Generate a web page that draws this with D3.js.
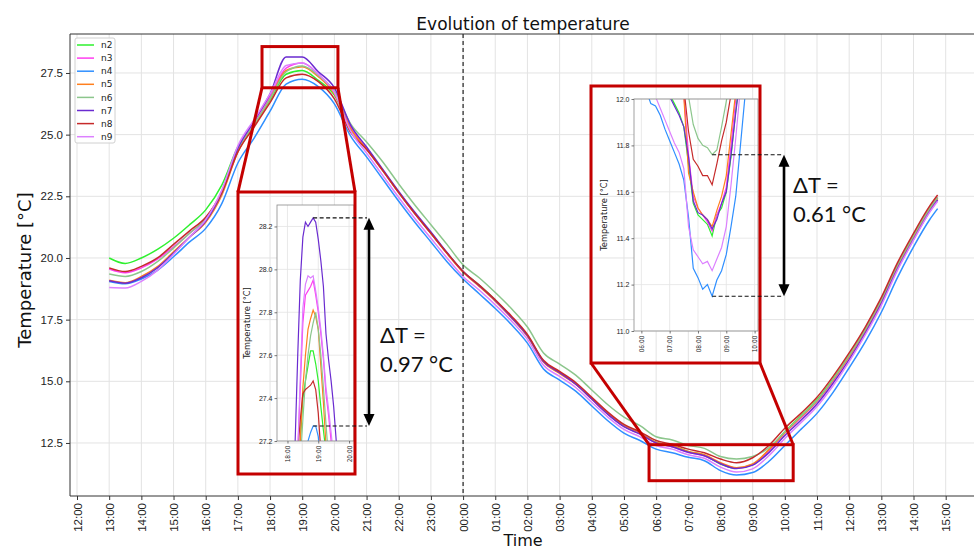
<!DOCTYPE html>
<html>
<head>
<meta charset="utf-8">
<script src="https://cdn.jsdelivr.net/npm/d3@7"></script>
<style>
  body { margin: 0; background: #fff; }
  svg { font-family: "DejaVu Sans", sans-serif; }
</style>
</head>
<body>
<svg class="chart"></svg>
<script>
// hours counted from midnight of the first day (24 = 00:00 next day)
var hours = [
  13, 13.5, 14, 14.5, 15, 15.5, 16, 16.5, 17, 17.5, 18, 18.5,
  19, 19.5, 20, 20.5, 21, 21.5, 22, 22.5, 23, 23.5,
  24, 24.5, 25, 25.5, 26, 26.5, 27, 27.5, 28, 28.5, 29, 29.5,
  30, 30.5, 31, 31.5, 32, 32.5, 33, 33.5, 34, 34.5, 35, 35.5,
  36, 36.5, 37, 37.5, 38, 38.5, 38.75
];

var seriesNames = ["n2", "n3", "n4", "n5", "n6", "n7", "n8", "n9"];
var seriesColors = ["#2ef02e", "#ff3df0", "#2f8fff", "#ff7f1e", "#8cc68c", "#6a2bd0", "#c62a2a", "#dc80ff"];

var n2 = [
  20.00, 19.78, 20.00, 20.35, 20.80, 21.35, 21.95, 22.95, 24.50, 25.40, 26.40, 27.45,
  27.60, 27.20, 26.60, 25.25, 24.45, 23.55, 22.65, 21.80, 21.00, 20.20,
  19.45, 18.90, 18.30, 17.60, 16.85, 15.80, 15.35, 14.90, 14.30, 13.70, 13.20, 12.90,
  12.52, 12.38, 12.15, 12.00, 11.65, 11.48, 11.62, 12.20, 12.95, 13.60, 14.25, 15.10,
  16.05, 17.10, 18.30, 19.70, 20.90, 22.00, 22.45
];
var n3 = [
  19.55, 19.40, 19.60, 19.95, 20.45, 21.00, 21.60, 22.70, 24.45, 25.50, 26.55, 27.70,
  27.90, 27.45, 26.70, 25.30, 24.45, 23.55, 22.65, 21.80, 21.00, 20.20,
  19.45, 18.88, 18.28, 17.60, 16.85, 15.80, 15.35, 14.90, 14.28, 13.68, 13.18, 12.88,
  12.50, 12.35, 12.12, 11.98, 11.68, 11.48, 11.62, 12.18, 12.90, 13.52, 14.18, 15.02,
  15.98, 17.05, 18.25, 19.65, 20.85, 21.98, 22.45
];
var n4 = [
  19.05, 18.95, 19.15, 19.50, 20.05, 20.65, 21.20, 22.20, 23.85, 24.85, 25.95, 27.05,
  27.25, 26.95, 26.25, 24.95, 24.10, 23.20, 22.30, 21.45, 20.65, 19.85,
  19.15, 18.55, 17.95, 17.30, 16.55, 15.50, 15.05, 14.60, 14.00, 13.40, 12.90, 12.60,
  12.25, 12.10, 11.92, 11.78, 11.38, 11.20, 11.30, 11.75, 12.40, 13.05, 13.70, 14.55,
  15.55, 16.60, 17.80, 19.20, 20.45, 21.55, 22.00
];
var n5 = [
  19.10, 19.00, 19.25, 19.65, 20.25, 20.85, 21.45, 22.55, 24.30, 25.35, 26.45, 27.60,
  27.75, 27.35, 26.65, 25.25, 24.42, 23.55, 22.65, 21.80, 21.00, 20.18,
  19.42, 18.85, 18.25, 17.58, 16.82, 15.78, 15.32, 14.88, 14.28, 13.68, 13.18, 12.88,
  12.52, 12.38, 12.16, 12.02, 11.70, 11.50, 11.65, 12.22, 12.92, 13.55, 14.20, 15.05,
  16.00, 17.05, 18.25, 19.65, 20.85, 21.98, 22.42
];
var n6 = [
  19.35, 19.25, 19.45, 19.85, 20.40, 21.00, 21.60, 22.65, 24.40, 25.40, 26.45, 27.55,
  27.78, 27.40, 26.75, 25.45, 24.70, 23.90, 23.00, 22.15, 21.35, 20.55,
  19.72, 19.20, 18.60, 17.95, 17.20, 16.15, 15.70, 15.25, 14.65, 14.05, 13.55, 13.20,
  12.75, 12.62, 12.40, 12.28, 11.95, 11.85, 11.95, 12.30, 12.95, 13.58, 14.22, 15.08,
  16.05, 17.10, 18.30, 19.70, 20.90, 22.00, 22.45
];
var n7 = [
  19.08, 18.98, 19.20, 19.60, 20.20, 20.85, 21.50, 22.65, 24.45, 25.55, 26.65, 28.15,
  28.15, 27.55, 26.90, 25.40, 24.50, 23.60, 22.70, 21.85, 21.05, 20.22,
  19.45, 18.88, 18.28, 17.60, 16.85, 15.80, 15.35, 14.88, 14.28, 13.66, 13.16, 12.86,
  12.50, 12.35, 12.12, 11.98, 11.66, 11.46, 11.60, 12.10, 12.80, 13.42, 14.08, 14.92,
  15.88, 16.95, 18.15, 19.55, 20.75, 21.88, 22.35
];
var n8 = [
  19.60, 19.45, 19.66, 20.00, 20.55, 21.10, 21.65, 22.65, 24.30, 25.30, 26.30, 27.30,
  27.45, 27.15, 26.45, 25.10, 24.40, 23.55, 22.65, 21.80, 21.00, 20.20,
  19.45, 18.90, 18.30, 17.65, 16.90, 15.85, 15.40, 14.95, 14.35, 13.75, 13.25, 12.95,
  12.60, 12.45, 12.25, 12.10, 11.85, 11.70, 11.90, 12.40, 13.10, 13.70, 14.35, 15.20,
  16.15, 17.20, 18.40, 19.80, 21.00, 22.10, 22.55
];
var n9 = [
  18.80, 18.78, 19.05, 19.50, 20.15, 20.85, 21.55, 22.75, 24.55, 25.60, 26.65, 27.80,
  27.90, 27.45, 26.70, 25.15, 24.25, 23.35, 22.45, 21.60, 20.80, 20.00,
  19.25, 18.70, 18.10, 17.45, 16.70, 15.65, 15.20, 14.75, 14.15, 13.55, 13.05, 12.75,
  12.40, 12.25, 12.02, 11.88, 11.52, 11.32, 11.45, 11.98, 12.68, 13.32, 13.98, 14.82,
  15.80, 16.88, 18.08, 19.50, 20.72, 21.85, 22.30
];

// zoom on the evening peak (5 min data)
var peakTimes = ["18:10", "18:15", "18:20", "18:25", "18:30", "18:35", "18:40", "18:45", "18:50", "18:55",
                 "19:00", "19:05", "19:10", "19:15", "19:20", "19:25", "19:30", "19:35", "19:40"];
var peakN2 = [26.60, 26.85, 27.05, 27.20, 27.40, 27.48, 27.55, 27.62, 27.62, 27.56, 27.48, 27.36, 27.25, 27.15, 27.05, 26.95, 26.85, 26.75, 26.65];
var peakN3 = [26.70, 26.95, 27.15, 27.45, 27.75, 27.88, 27.90, 27.92, 27.95, 27.88, 27.80, 27.70, 27.58, 27.42, 27.32, 27.20, 27.10, 26.98, 26.88];
var peakN4 = [26.40, 26.60, 26.78, 26.90, 27.00, 27.10, 27.20, 27.24, 27.27, 27.27, 27.22, 27.10, 26.98, 26.85, 26.75, 26.65, 26.55, 26.45, 26.35];
var peakN5 = [26.60, 26.85, 27.05, 27.20, 27.45, 27.60, 27.72, 27.77, 27.81, 27.78, 27.72, 27.55, 27.38, 27.18, 27.05, 26.95, 26.85, 26.75, 26.65];
var peakN6 = [26.60, 26.80, 26.98, 27.10, 27.30, 27.48, 27.60, 27.69, 27.75, 27.80, 27.72, 27.60, 27.45, 27.28, 27.12, 27.00, 26.90, 26.80, 26.70];
var peakN7 = [26.90, 27.20, 27.60, 27.95, 28.15, 28.22, 28.20, 28.22, 28.24, 28.22, 28.14, 28.04, 27.92, 27.70, 27.58, 27.48, 27.36, 27.20, 27.05];
var peakN8 = [26.70, 26.95, 27.15, 27.30, 27.42, 27.44, 27.45, 27.46, 27.48, 27.44, 27.33, 27.15, 27.00, 26.90, 26.80, 26.70, 26.60, 26.50, 26.40];
var peakN9 = [26.70, 26.95, 27.15, 27.50, 27.82, 27.93, 27.97, 27.96, 27.97, 27.90, 27.82, 27.72, 27.60, 27.45, 27.35, 27.24, 27.12, 27.00, 26.90];

// zoom on the morning minimum (10 min data)
var dipTimes = ["06:00", "06:10", "06:20", "06:30", "06:40", "06:50", "07:00", "07:10", "07:20", "07:30",
                "07:40", "07:50", "08:00", "08:10", "08:20", "08:30", "08:40", "08:50", "09:00", "09:10",
                "09:20", "09:30", "09:40", "09:50", "10:00"];
var dipN2 = [12.50, 12.40, 12.30, 12.20, 12.12, 12.06, 12.02, 11.98, 11.94, 11.88, 11.72, 11.55, 11.50, 11.48, 11.46, 11.41, 11.50, 11.53, 11.60, 11.75, 11.95, 12.12, 12.30, 12.50, 12.70];
var dipN3 = [12.60, 12.50, 12.40, 12.30, 12.22, 12.16, 12.12, 12.08, 12.04, 12.02, 11.76, 11.58, 11.53, 11.50, 11.47, 11.43, 11.50, 11.55, 11.62, 11.80, 12.00, 12.15, 12.35, 12.55, 12.75];
var dipN4 = [12.12, 12.04, 11.98, 11.97, 11.93, 11.87, 11.82, 11.77, 11.72, 11.65, 11.49, 11.27, 11.23, 11.18, 11.20, 11.15, 11.22, 11.26, 11.33, 11.45, 11.58, 11.80, 12.02, 12.30, 12.50];
var dipN5 = [12.60, 12.50, 12.40, 12.30, 12.22, 12.16, 12.12, 12.08, 12.05, 12.01, 11.68, 11.60, 11.53, 11.50, 11.48, 11.45, 11.52, 11.58, 11.67, 11.85, 12.03, 12.20, 12.40, 12.60, 12.80];
var dipN6 = [12.80, 12.70, 12.60, 12.50, 12.40, 12.32, 12.26, 12.20, 12.15, 12.08, 12.01, 11.89, 11.83, 11.80, 11.79, 11.76, 11.78, 11.88, 11.99, 12.10, 12.25, 12.40, 12.60, 12.80, 13.00];
var dipN7 = [12.50, 12.40, 12.30, 12.20, 12.12, 12.05, 12.01, 11.97, 11.93, 11.88, 11.75, 11.56, 11.51, 11.50, 11.48, 11.44, 11.48, 11.55, 11.60, 11.76, 11.94, 12.10, 12.30, 12.50, 12.70];
var dipN8 = [12.70, 12.60, 12.50, 12.40, 12.32, 12.26, 12.20, 12.15, 12.10, 12.05, 11.86, 11.74, 11.71, 11.67, 11.67, 11.63, 11.72, 11.82, 11.90, 12.02, 12.15, 12.30, 12.50, 12.70, 12.90];
var dipN9 = [12.30, 12.20, 12.08, 12.01, 11.96, 11.91, 11.86, 11.81, 11.77, 11.70, 11.45, 11.35, 11.32, 11.29, 11.30, 11.26, 11.31, 11.36, 11.45, 11.63, 11.83, 12.05, 12.30, 12.50, 12.70];

var mainValues = [n2, n3, n4, n5, n6, n7, n8, n9];
var peakValues = [peakN2, peakN3, peakN4, peakN5, peakN6, peakN7, peakN8, peakN9];
var dipValues = [dipN2, dipN3, dipN4, dipN5, dipN6, dipN7, dipN8, dipN9];

/** chart boilerplate **/
var W = 974, H = 552;
var svg = d3.select('.chart').attr('width', W).attr('height', H);

var plot = {left: 70, right: 974, top: 34, bottom: 496};
var x = d3.scaleLinear().domain([11.782, 39.88]).range([plot.left, plot.right]);
var y = d3.scaleLinear().domain([10.35, 29.08]).range([plot.bottom, plot.top]);

var pad = (h) => (h < 10 ? '0' : '') + h;
var hourLabel = (h) => pad(Math.round(h) % 24) + ':00';
var toHours = (s) => +s.slice(0, 2) + (+s.slice(3)) / 60;

var gridColor = '#e3e3e3';
var boxRed = '#c40000';

// grid
var xTicks = d3.range(12, 40);
var yTicks = [12.5, 15, 17.5, 20, 22.5, 25, 27.5];
svg.append('g').selectAll('line').data(xTicks).enter().append('line')
  .attr('x1', (d) => x(d)).attr('x2', (d) => x(d))
  .attr('y1', plot.top).attr('y2', plot.bottom)
  .attr('stroke', gridColor).attr('stroke-width', 1);
svg.append('g').selectAll('line').data(yTicks).enter().append('line')
  .attr('x1', plot.left).attr('x2', plot.right)
  .attr('y1', (d) => y(d)).attr('y2', (d) => y(d))
  .attr('stroke', gridColor).attr('stroke-width', 1);

// main lines
var line = d3.line().x((d) => x(d.t)).y((d) => y(d.v)).curve(d3.curveMonotoneX);
seriesNames.forEach(function(name, i) {
  var pts = hours.map((h, j) => ({t: h, v: mainValues[i][j]}));
  svg.append('path').datum(pts)
    .attr('fill', 'none').attr('stroke', seriesColors[i]).attr('stroke-width', 1.5)
    .attr('d', line);
});

// midnight marker
svg.append('line')
  .attr('x1', x(24)).attr('x2', x(24)).attr('y1', plot.top).attr('y2', plot.bottom)
  .attr('stroke', '#222').attr('stroke-width', 1.2).attr('stroke-dasharray', '4,3');

// axes
var xAxis = svg.append('g').attr('transform', 'translate(0,' + plot.bottom + ')')
  .call(d3.axisBottom(x).tickValues(xTicks).tickFormat(hourLabel).tickSize(4).tickSizeOuter(0));
xAxis.selectAll('text')
  .attr('y', 0).attr('x', -7).attr('dy', '0.35em')
  .attr('transform', 'rotate(-90)').style('text-anchor', 'end')
  .style('font-size', '11.5px').attr('fill', '#222');
var yAxis = svg.append('g').attr('transform', 'translate(' + plot.left + ',0)')
  .call(d3.axisLeft(y).tickValues(yTicks).tickFormat(d3.format('.1f')).tickSize(4).tickSizeOuter(0));
yAxis.selectAll('text').style('font-size', '11.5px').attr('fill', '#222');
svg.selectAll('.domain').remove();
svg.selectAll('.tick line').attr('stroke', '#333');

// spines
svg.append('path')
  .attr('d', 'M' + plot.right + ',' + plot.top + 'H' + plot.left + 'V' + plot.bottom + 'H' + plot.right)
  .attr('fill', 'none').attr('stroke', '#333').attr('stroke-width', 1);

// titles
svg.append('text').attr('x', 523).attr('y', 30).attr('text-anchor', 'middle')
  .style('font-size', '17px').attr('fill', '#111').text('Evolution of temperature');
svg.append('text').attr('transform', 'translate(31,270) rotate(-90)').attr('text-anchor', 'middle')
  .style('font-size', '18px').attr('fill', '#111').text('Temperature [°C]');
svg.append('text').attr('x', 523).attr('y', 546).attr('text-anchor', 'middle')
  .style('font-size', '16px').attr('fill', '#111').text('Time');

// legend
var legend = svg.append('g');
legend.append('rect').attr('x', 75).attr('y', 38).attr('width', 40).attr('height', 105)
  .attr('rx', 2).attr('fill', '#fff').attr('fill-opacity', 0.85).attr('stroke', '#d0d0d0');
seriesNames.forEach(function(name, i) {
  var ly = 45 + i * 13.1;
  legend.append('line').attr('x1', 77).attr('x2', 94).attr('y1', ly).attr('y2', ly)
    .attr('stroke', seriesColors[i]).attr('stroke-width', 1.5);
  legend.append('text').attr('x', 101).attr('y', ly).attr('dy', '0.35em')
    .style('font-size', '9px').attr('fill', '#222').text(name);
});

/** zoom insets **/
function drawInset(cfg) {
  var g = svg.append('g');
  var a = cfg.axes;
  var ix = d3.scaleLinear().domain(cfg.tDomain).range([a.x0, a.x1]);
  var iy = d3.scaleLinear().domain(cfg.vDomain).range([a.y1, a.y0]);

  g.append('rect').attr('x', a.x0).attr('y', a.y0).attr('width', a.x1 - a.x0).attr('height', a.y1 - a.y0)
    .attr('fill', '#fff');
  g.selectAll('.gx').data(cfg.tTicks).enter().append('line')
    .attr('x1', (d) => ix(d)).attr('x2', (d) => ix(d)).attr('y1', a.y0).attr('y2', a.y1)
    .attr('stroke', gridColor).attr('stroke-width', 0.8);
  g.selectAll('.gy').data(cfg.vTicks).enter().append('line')
    .attr('x1', a.x0).attr('x2', a.x1).attr('y1', (d) => iy(d)).attr('y2', (d) => iy(d))
    .attr('stroke', gridColor).attr('stroke-width', 0.8);

  g.append('clipPath').attr('id', cfg.id).append('rect')
    .attr('x', a.x0).attr('y', a.y0).attr('width', a.x1 - a.x0).attr('height', a.y1 - a.y0);
  var iline = d3.line().x((d) => ix(d.t)).y((d) => iy(d.v));
  var lines = g.append('g').attr('clip-path', 'url(#' + cfg.id + ')');
  seriesNames.forEach(function(name, i) {
    var pts = cfg.times.map((s, j) => ({t: toHours(s), v: cfg.values[i][j]}));
    lines.append('path').datum(pts)
      .attr('fill', 'none').attr('stroke', seriesColors[i]).attr('stroke-width', 1.2)
      .attr('d', iline);
  });

  g.append('rect').attr('x', a.x0).attr('y', a.y0).attr('width', a.x1 - a.x0).attr('height', a.y1 - a.y0)
    .attr('fill', 'none').attr('stroke', '#8a8a8a').attr('stroke-width', 0.8);

  var bx = g.append('g').attr('transform', 'translate(0,' + a.y1 + ')')
    .call(d3.axisBottom(ix).tickValues(cfg.tTicks).tickFormat(hourLabel).tickSize(2.5).tickSizeOuter(0));
  bx.selectAll('text')
    .attr('y', 0).attr('x', -4.5).attr('dy', '0.35em')
    .attr('transform', 'rotate(-90)').style('text-anchor', 'end')
    .style('font-family', '"DejaVu Sans Condensed", "DejaVu Sans", sans-serif')
    .style('font-size', '6.5px').attr('fill', '#222');
  var by = g.append('g').attr('transform', 'translate(' + a.x0 + ',0)')
    .call(d3.axisLeft(iy).tickValues(cfg.vTicks).tickFormat(d3.format('.1f')).tickSize(2.5).tickSizeOuter(0));
  by.selectAll('text').style('font-size', '7px').attr('fill', '#222').attr('x', -4.5);
  g.selectAll('.domain').remove();
  g.selectAll('.tick line').attr('stroke', '#555').attr('stroke-width', 0.8);

  g.append('text')
    .attr('transform', 'translate(' + cfg.labelX + ',' + ((a.y0 + a.y1) / 2) + ') rotate(-90)')
    .attr('text-anchor', 'middle').style('font-size', '8.3px').attr('fill', '#222')
    .text('Temperature [°C]');

  // frame round the inset
  var f = cfg.frame;
  g.append('rect').attr('x', f.x0).attr('y', f.y0).attr('width', f.x1 - f.x0).attr('height', f.y1 - f.y0)
    .attr('fill', 'none').attr('stroke', boxRed).attr('stroke-width', 3);

  return {ix: ix, iy: iy};
}

function drawSource(src, frame, fromTop) {
  var x0 = x(src.t0), x1 = x(src.t1), y0 = y(src.v1), y1 = y(src.v0);
  svg.append('rect').attr('x', x0).attr('y', y0).attr('width', x1 - x0).attr('height', y1 - y0)
    .attr('fill', 'none').attr('stroke', boxRed).attr('stroke-width', 3);
  var sy = fromTop ? y1 : y0;
  var fy = fromTop ? frame.y0 : frame.y1;
  svg.append('line').attr('x1', x0).attr('y1', sy).attr('x2', frame.x0).attr('y2', fy)
    .attr('stroke', boxRed).attr('stroke-width', 3);
  svg.append('line').attr('x1', x1).attr('y1', sy).attr('x2', frame.x1).attr('y2', fy)
    .attr('stroke', boxRed).attr('stroke-width', 3);
}

function drawDelta(sc, times, hiSeries, loSeries, pick, ax, textPos) {
  var hiV = pick(hiSeries), loV = pick(loSeries);
  var hiT = toHours(times[hiSeries.indexOf(hiV)]);
  var loT = toHours(times[loSeries.indexOf(loV)]);
  var yHi = sc.iy(hiV), yLo = sc.iy(loV);
  [[hiT, yHi], [loT, yLo]].forEach(function(p) {
    svg.append('line').attr('x1', sc.ix(p[0])).attr('x2', ax - 2).attr('y1', p[1]).attr('y2', p[1])
      .attr('stroke', '#111').attr('stroke-width', 1.1).attr('stroke-dasharray', '4,2.5');
  });
  var top = Math.min(yHi, yLo), bot = Math.max(yHi, yLo);
  svg.append('line').attr('x1', ax).attr('x2', ax).attr('y1', top + 8).attr('y2', bot - 8)
    .attr('stroke', '#000').attr('stroke-width', 2.6);
  svg.append('path').attr('d', 'M' + ax + ',' + top + 'l-5.5,12h11z').attr('fill', '#000');
  svg.append('path').attr('d', 'M' + ax + ',' + bot + 'l-5.5,-12h11z').attr('fill', '#000');
  var t = svg.append('text').attr('x', textPos[0]).attr('y', textPos[1])
    .style('font-family', 'Lato, "Open Sans", sans-serif').style('font-size', '22px').attr('fill', '#111');
  t.append('tspan').attr('x', textPos[0]).text('ΔT =');
  t.append('tspan').attr('x', textPos[0]).attr('dy', 28.5)
    .text(Math.abs(hiV - loV).toFixed(2) + ' °C');
}

// evening peak
var peakFrame = {x0: 238, y0: 192, x1: 355, y1: 474};
drawSource({t0: 17.75, t1: 20.11, v0: 26.9, v1: 28.57}, peakFrame, true);
var peakScales = drawInset({
  id: 'clipPeak', times: peakTimes, values: peakValues,
  axes: {x0: 277, y0: 205, x1: 354, y1: 441}, frame: peakFrame,
  tDomain: [17.66, 20.16], vDomain: [27.2, 28.3],
  tTicks: [18, 19, 20], vTicks: [27.2, 27.4, 27.6, 27.8, 28.0, 28.2], labelX: 250
});
drawDelta(peakScales, peakTimes, peakN7, peakN4, d3.max, 369, [380, 343]);

// morning minimum
var dipFrame = {x0: 591, y0: 86, x1: 760, y1: 363};
drawSource({t0: 29.78, t1: 34.26, v0: 10.97, v1: 12.43}, dipFrame, false);
var dipScales = drawInset({
  id: 'clipDip', times: dipTimes, values: dipValues,
  axes: {x0: 634, y0: 99, x1: 758, y1: 331}, frame: dipFrame,
  tDomain: [5.74, 10.12], vDomain: [11.0, 12.0],
  tTicks: [6, 7, 8, 9, 10], vTicks: [11.0, 11.2, 11.4, 11.6, 11.8, 12.0], labelX: 607
});
drawDelta(dipScales, dipTimes, dipN6, dipN4, d3.min, 784, [793, 193]);
</script>
</body>
</html>
